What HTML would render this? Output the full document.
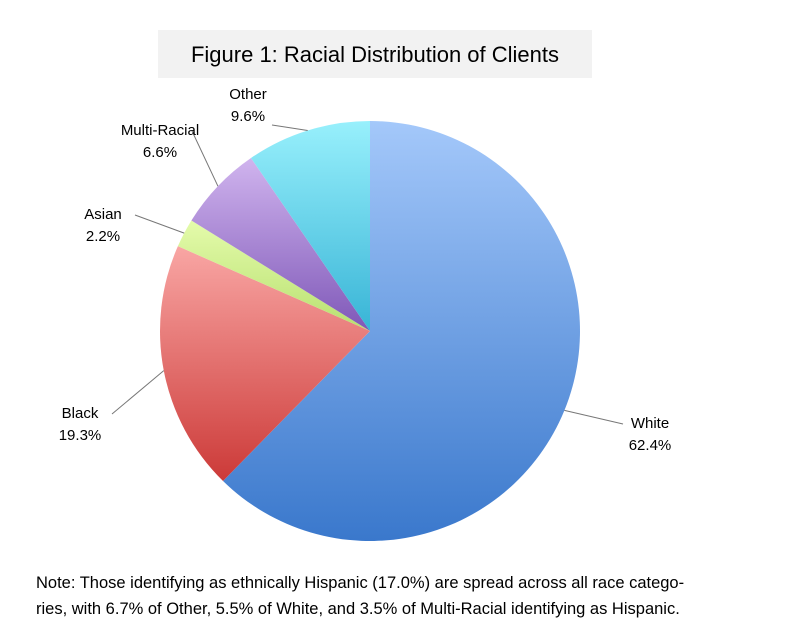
<!DOCTYPE html>
<html><head><meta charset="utf-8"><style>
body{margin:0;background:#fff;width:809px;height:627px;overflow:hidden;font-family:"Liberation Sans",Arial,sans-serif}
</style></head><body>
<svg width="809" height="627" xmlns="http://www.w3.org/2000/svg">
<defs>
<linearGradient id="g0" x1="0" y1="0" x2="0" y2="1"><stop offset="0" stop-color="#a4c8fa"/><stop offset="1" stop-color="#3a78cc"/></linearGradient>
<linearGradient id="g1" x1="0" y1="0" x2="0" y2="1"><stop offset="0" stop-color="#f9a6a4"/><stop offset="1" stop-color="#cc3a38"/></linearGradient>
<linearGradient id="g2" x1="0" y1="0" x2="0" y2="1"><stop offset="0" stop-color="#e4fbab"/><stop offset="1" stop-color="#b8e070"/></linearGradient>
<linearGradient id="g3" x1="0" y1="0" x2="0" y2="1"><stop offset="0" stop-color="#d0b4ee"/><stop offset="1" stop-color="#7f58b8"/></linearGradient>
<linearGradient id="g4" x1="0" y1="0" x2="0" y2="1"><stop offset="0" stop-color="#98f0fc"/><stop offset="1" stop-color="#38b4d6"/></linearGradient>
</defs>
<rect x="158" y="30" width="434" height="48" fill="#f2f2f2"/>
<text x="375" y="62" font-size="22" text-anchor="middle" fill="#000">Figure 1: Racial Distribution of Clients</text>
<g id="slices"></g>
<g id="labels" font-size="15" fill="#000"></g>
<text x="36" y="588" font-size="16.5">Note: Those identifying as ethnically Hispanic (17.0%) are spread across all race catego-</text>
<text x="36" y="614" font-size="16.5">ries, with 6.7% of Other, 5.5% of White, and 3.5% of Multi-Racial identifying as Hispanic.</text>
</svg>
<script>
const categories=["White","Black","Asian","Multi-Racial","Other"];
const values=[62.4,19.3,2.2,6.6,9.6];
const labelText=["62.4%","19.3%","2.2%","6.6%","9.6%"];
const cx=370,cy=331,r=210;
const fills=["url(#g0)","url(#g1)","url(#g2)","url(#g3)","url(#g4)"];
const labelPos=[[625,428,"start"],[110,418,"end"],[133,219,"end"],[190,135,"end"],[248,99,"middle"]];
const ns="http://www.w3.org/2000/svg";
const total=values.reduce((a,b)=>a+b,0);
function pt(a,rr){return [cx+rr*Math.sin(a),cy-rr*Math.cos(a)];}
let ang=0;
const sg=document.getElementById('slices'),lg=document.getElementById('labels');
values.forEach((v,i)=>{
  const a0=ang,a1=ang+v/total*2*Math.PI;ang=a1;
  const p0=pt(a0,r),p1=pt(a1,r);
  const large=(a1-a0)>Math.PI?1:0;
  const p=document.createElementNS(ns,'path');
  p.setAttribute('d',`M${cx},${cy}L${p0[0]},${p0[1]}A${r},${r} 0 ${large} 1 ${p1[0]},${p1[1]}Z`);
  p.setAttribute('fill',fills[i]);
  
  
  sg.appendChild(p);
  const mid=(a0+a1)/2,e=pt(mid,r);
  const [lx,ly,anc]=labelPos[i];
  const ln=document.createElementNS(ns,'polyline');
  let ax=anc==="start"?lx-2:(anc==="end"?lx+2:lx+22), ay=ly-4;
  if(i===4){ax=lx+24;ay=ly+26;}
  ln.setAttribute('points',`${e[0]},${e[1]} ${ax},${ay}`);
  ln.setAttribute('stroke','#777');ln.setAttribute('fill','none');ln.setAttribute('stroke-width','1');
  
  
  lg.appendChild(ln);
  const t=document.createElementNS(ns,'text');
  const tx=anc==="end"?lx-30:(anc==="start"?lx+25:lx);
  t.setAttribute('x',tx);t.setAttribute('y',ly);t.setAttribute('text-anchor','middle');
  
  
  const s1=document.createElementNS(ns,'tspan');s1.setAttribute('x',tx);s1.textContent=categories[i];
  const s2=document.createElementNS(ns,'tspan');s2.setAttribute('x',tx);s2.setAttribute('dy','22');s2.textContent=labelText[i];
  t.appendChild(s1);t.appendChild(s2);lg.appendChild(t);
});
</script>
</body></html>
